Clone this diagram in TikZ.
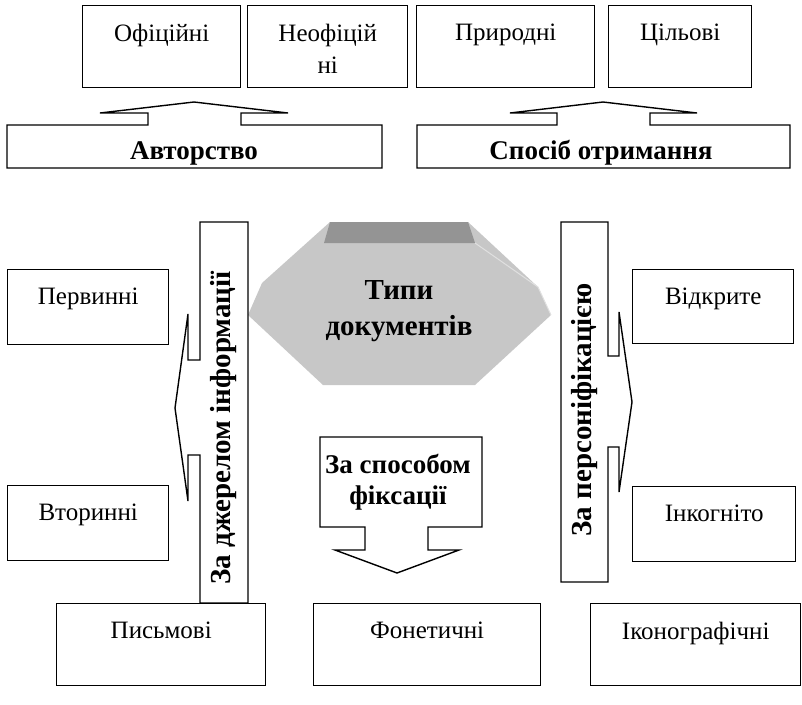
\documentclass[tikz,border=0pt]{standalone}
\usepackage{fontspec}
\setmainfont{Liberation Serif}
\usetikzlibrary{positioning}

\begin{document}
\begin{tikzpicture}[x=1pt,y=-1pt,line width=1.4pt,
    every node/.style={inner sep=0pt,font=\fontsize{25}{32}\selectfont},
    box/.style={draw,anchor=north west},
    bold/.style={font=\fontsize{27}{31}\selectfont\bfseries,align=center},
    bigbold/.style={font=\fontsize{29}{36}\selectfont\bfseries,align=center}]
    \useasboundingbox (0,0) rectangle (802,704);
    % top row
    \node[box,minimum width=158pt,minimum height=82pt] (ofic) at (82,5) {};
    \node[box,minimum width=160pt,minimum height=82pt] (neofic) at (247,5) {};
    \node[box,minimum width=178pt,minimum height=82pt] (pryrod) at (416,5) {};
    \node[box,minimum width=143pt,minimum height=82pt] (cilovi) at (608,5) {};
    \node[below=18pt of ofic.north] (ofic-t) {Офіційні};
    \node[below=18pt of neofic.north,align=center] (neofic-t) {Неофіцій\\ні};
    \node[below=18pt of pryrod.north] (pryrod-t) {Природні};
    \node[below=18pt of cilovi.north] (cilovi-t) {Цільові};
    % side boxes
    \node[box,minimum width=161pt,minimum height=75pt] (pervin) at (7,269) {};
    \node[box,minimum width=161pt,minimum height=75pt] (vtorin) at (7,485) {};
    \node[box,minimum width=161pt,minimum height=74pt] (vidkr) at (632,269) {};
    \node[box,minimum width=163pt,minimum height=75pt] (inkog) at (632,486) {};
    \node[below=18pt of pervin.north] (pervin-t) {Первинні};
    \node[below=18pt of vtorin.north] (vtorin-t) {Вторинні};
    \node[below=18pt of vidkr.north] (vidkr-t) {Відкрите};
    \node[below=18pt of inkog.north] (inkog-t) {Інкогніто};
    % bottom row
    \node[box,minimum width=209pt,minimum height=82pt] (pysm) at (56,603) {};
    \node[box,minimum width=227pt,minimum height=82pt] (fonet) at (313,603) {};
    \node[box,minimum width=210pt,minimum height=82pt] (ikon) at (590,603) {};
    \node[below=18pt of pysm.north] (pysm-t) {Письмові};
    \node[below=18pt of fonet.north] (fonet-t) {Фонетичні};
    \node[below=18pt of ikon.north] (ikon-t) {Іконографічні};
    % centre
    \fill[fill=black!22] (330,222) -- (468,222) -- (538,287) -- (551,315) -- (475,385)
      -- (323,385) -- (248,315) -- (262,283) -- cycle;
    \fill[fill=black!42] (330,222) -- (468,222) -- (475,243) -- (324,243) -- cycle;
    \draw[black!12,line width=1pt] (475,243) -- (538,287) -- (551,315);
    \node[font=\fontsize{29}{36}\selectfont\bfseries,align=center] (typy) at (399,311) {Типи\\документів};
    % callouts
    \draw (7,168) -- (7,125) -- (148,125) -- (148,113) -- (100,113) -- (194,102) -- (288,113)
      -- (241,113) -- (241,125) -- (382,125) -- (382,168) -- cycle;
    \node[bold] (avtor) at (194,153) {Авторство};
    \draw (417,168) -- (417,125) -- (557,125) -- (557,113) -- (510,113) -- (603,102) -- (697,113)
      -- (650,113) -- (650,125) -- (790,125) -- (790,168) -- cycle;
    \node[bold] (sposib) at (601,153) {Спосіб отримання};
    \draw (248,222) -- (200,222) -- (200,360) -- (188,360) -- (188,314) -- (175,408) -- (188,501)
      -- (188,455) -- (200,455) -- (200,603) -- (248,603) -- cycle;
    \node[bigbold,rotate=90] (dzherelo) at (224,428) {За джерелом інформації};
    \draw (561,222) -- (608,222) -- (608,356) -- (619,356) -- (619,312) -- (632,402) -- (619,492)
      -- (619,447) -- (608,447) -- (608,582) -- (561,582) -- cycle;
    \node[bigbold,rotate=90] (person) at (585,410) {За персоніфікацією};
    \draw (320,437) -- (482,437) -- (482,527) -- (428,527) -- (428,550) -- (459,550) -- (397,573)
      -- (335,550) -- (365,550) -- (365,527) -- (320,527) -- cycle;
    \node[bold] (fiks) at (398,482) {За способом\\фіксації};
\end{tikzpicture}
\end{document}
